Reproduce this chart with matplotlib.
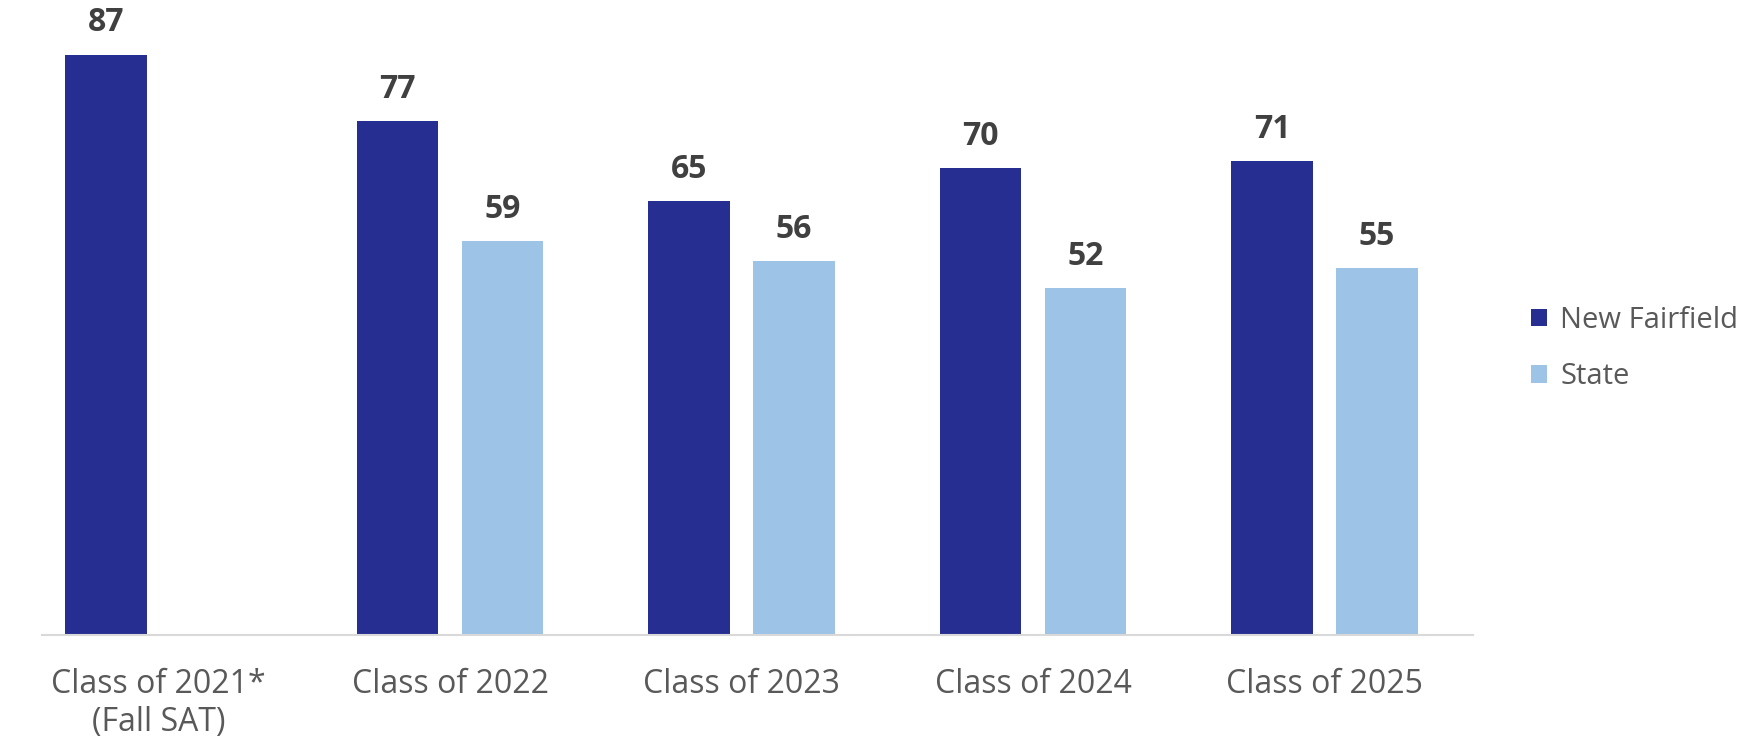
import matplotlib.pyplot as plt
import numpy as np

plt.rcParams['font.family'] = ['Open Sans', 'DejaVu Sans']

categories = ['Class of 2021*\n(Fall SAT)', 'Class of 2022', 'Class of 2023',
              'Class of 2024', 'Class of 2025']
new_fairfield = [87, 77, 65, 70, 71]
state = [None, 59, 56, 52, 55]

nf_color = '#262f91'
st_color = '#9dc3e6'

fig = plt.figure(figsize=(17.6, 7.37), dpi=100)
ax = fig.add_axes([0.0239, 0.1384, 0.8131, 0.8616])

x = np.arange(len(categories))
w = 0.28
off = 0.18

nf_bars = ax.bar(x - off, new_fairfield, w, color=nf_color, label='New Fairfield')
st_x = [xi + off for xi, v in zip(x, state) if v is not None]
st_v = [v for v in state if v is not None]
st_bars = ax.bar(st_x, st_v, w, color=st_color, label='State')

for b in list(nf_bars) + list(st_bars):
    ax.annotate(str(int(b.get_height())), (b.get_x() + b.get_width() / 2, b.get_height()),
                xytext=(0, 11), textcoords='offset points', ha='center', va='bottom',
                fontsize=23, fontweight='bold', color='#404040')

ax.set_xlim(-0.4, 4.51)
ax.set_ylim(0, 95.2)
ax.set_yticks([])
ax.set_xticks(x)
ax.set_xticklabels(categories, fontsize=23, color='#595959', linespacing=1.2)
ax.tick_params(axis='x', length=0, pad=24)
for s in ['top', 'right', 'left']:
    ax.spines[s].set_visible(False)
ax.spines['bottom'].set_color('#d9d9d9')
ax.spines['bottom'].set_linewidth(1.5)

fig.legend(handles=[nf_bars, st_bars], labels=['New Fairfield', 'State'],
           loc='center left', bbox_to_anchor=(0.855, 0.527), frameon=False,
           fontsize=21, labelcolor='#595959', handlelength=0.55, handleheight=0.55,
           handletextpad=0.45, labelspacing=0.95)

fig.savefig('out.png', dpi=100)
